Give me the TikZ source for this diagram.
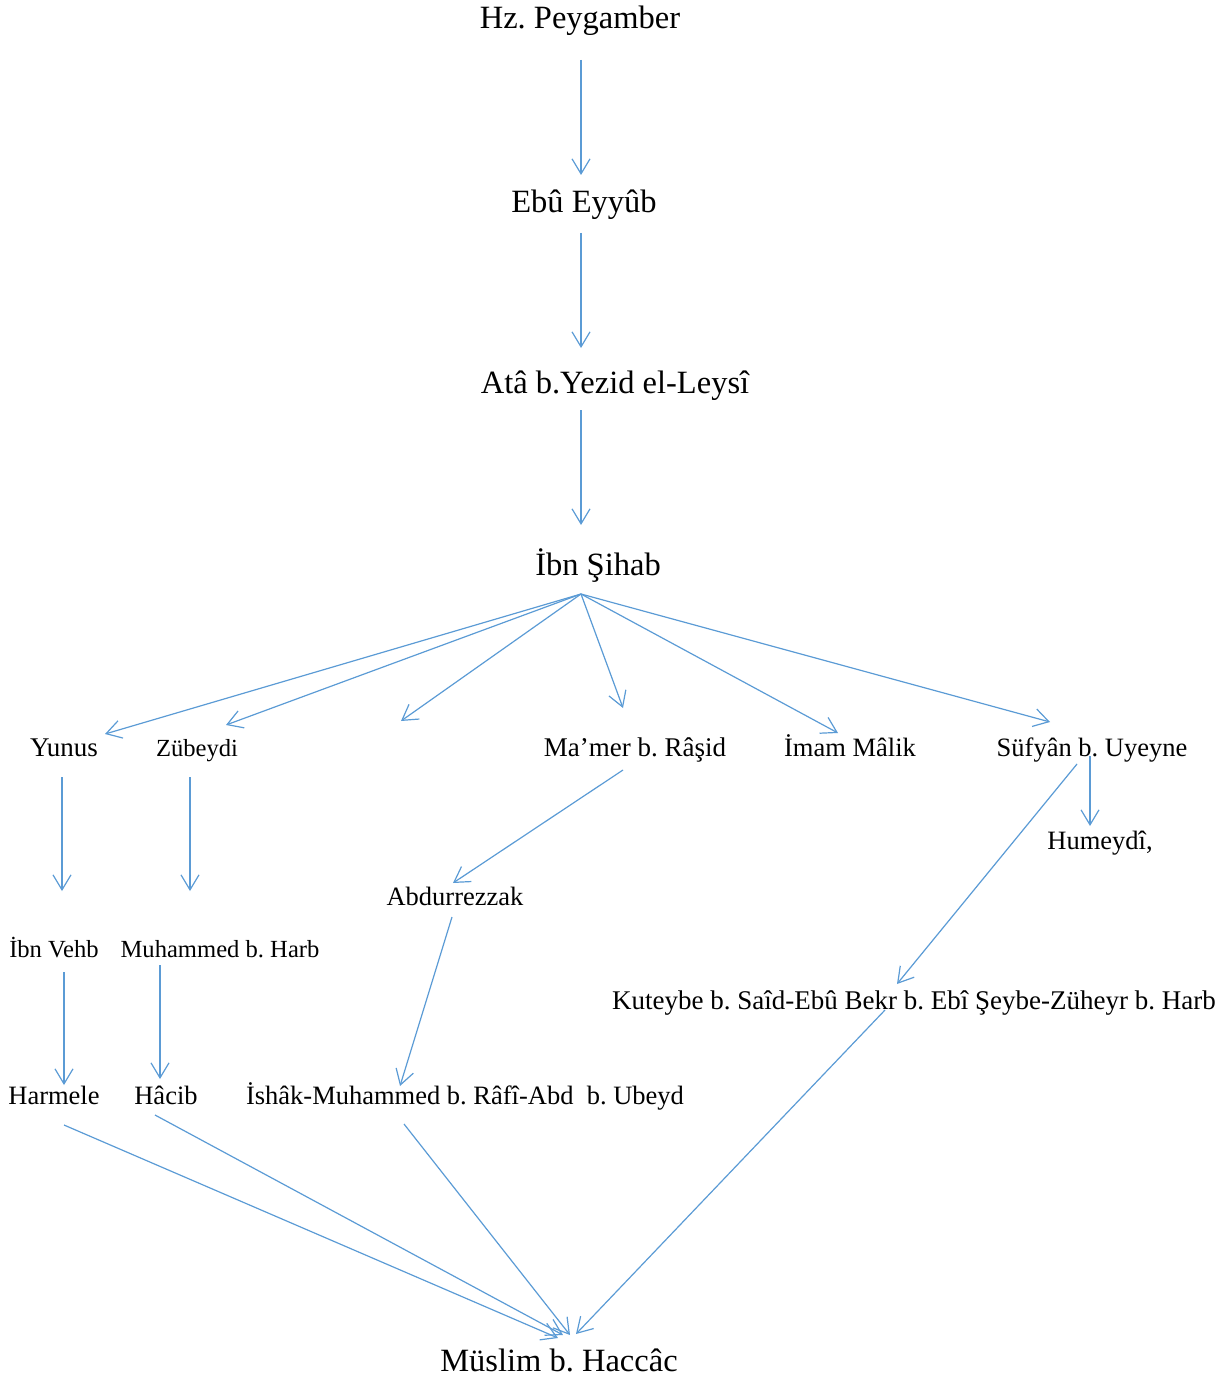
\documentclass[tikz,border=0pt]{standalone}
\usepackage{fontspec}
\setmainfont{Liberation Serif}
\usepackage{xcolor}
\usetikzlibrary{arrows.meta, calc}
\definecolor{linkblue}{RGB}{91,155,213}
\frenchspacing

\begin{document}
\begin{tikzpicture}[
  x=1pt, y=-1pt,
  person/.style={inner sep=0pt, text height=19.9pt, text depth=6.6pt,
                 font=\fontsize{26.5}{30}\selectfont},
  wide/.style={person, text height=20.3pt, text depth=6.8pt,
               font=\fontsize{27}{32}\selectfont},
  big/.style={person, text height=24.4pt, text depth=8.1pt,
              font=\fontsize{32.5}{38}\selectfont},
  small/.style={person, text height=18.5pt, text depth=6.2pt,
                font=\fontsize{24.6}{28}\selectfont},
  arrow/.style={-{Straight Barb[length=15pt, width=18pt]}, draw=linkblue, line width=1.2pt},
]
\useasboundingbox (0,0) rectangle (1227,1380);

% chain from the top
\node[big] (hz) at (580,20) {Hz. Peygamber};
\node[big] (ebu) at (584,204) {Ebû Eyyûb};
\node[big] (ata) at (615,385) {Atâ b.Yezid el-Leysî};
\node[big] (ibn) at (598,567) {İbn Şihab};

% students of Ibn Sihab
\node[wide] (yunus) at (64,750) {Yunus};
\node[small] (zub) at (197,750) {Zübeydi};
\coordinate (blank) at (401,721);
\node[wide] (mamer) at (635,750) {Ma’mer b. Râşid};
\node[person] (malik) at (850,750) {İmam Mâlik};
\node[person] (sufyan) at (1092,750) {Süfyân b. Uyeyne};

\node[person] (humeydi) at (1100,843) {Humeydî,};
\node[person] (abdur) at (455,899) {Abdurrezzak};
\node[small] (vehb) at (54,951) {İbn Vehb};
\node[small] (harb) at (220,951) {Muhammed b. Harb};
\node[wide] (kuteybe) at (914,1003) {Kuteybe b. Saîd-Ebû Bekr b. Ebî Şeybe-Züheyr b. Harb};
\node[person] (harmele) at (54,1098) {Harmele};
\node[person] (hacib) at (166,1098) {Hâcib};
\node[person] (ishak) at (465,1098) {İshâk-Muhammed b. Râfî-Abd\ \ b. Ubeyd};
\node[big] (muslim) at (559,1363) {Müslim b. Haccâc};

\draw[arrow] ([shift={(1,40)}]hz.center) -- ([shift={(-3,-29)}]ebu.center);
\draw[arrow] ([shift={(-3,29)}]ebu.center) -- ([shift={(-34,-37)}]ata.center);
\draw[arrow] ([shift={(-34,25)}]ata.center) -- ([shift={(-17,-42)}]ibn.center);

\draw[arrow] ([shift={(-17,27)}]ibn.center) -- ([shift={(41,-16)}]yunus.center);
\draw[arrow] ([shift={(-17,27)}]ibn.center) -- ([shift={(29,-25)}]zub.center);
\draw[arrow] ([shift={(-17,27)}]ibn.center) -- (blank);
\draw[arrow] ([shift={(-17,27)}]ibn.center) -- ([shift={(-12,-42)}]mamer.center);
\draw[arrow] ([shift={(-17,27)}]ibn.center) -- ([shift={(-12,-17)}]malik.center);
\draw[arrow] ([shift={(-17,27)}]ibn.center) -- ([shift={(-42,-28)}]sufyan.center);

\draw[arrow] ([shift={(-2,27)}]yunus.center) -- ([shift={(8,-60)}]vehb.center);
\draw[arrow] ([shift={(-7,27)}]zub.center) -- ([shift={(-30,-60)}]harb.center);
\draw[arrow] ([shift={(-12,20)}]mamer.center) -- ([shift={(-2,-16)}]abdur.center);
\draw[arrow] ([shift={(-2,6)}]sufyan.center) -- ([shift={(-10,-17)}]humeydi.center);
\draw[arrow] ([shift={(-15,14)}]sufyan.center) -- ([shift={(-17,-19)}]kuteybe.center);
\draw[arrow] ([shift={(-3,18)}]abdur.center) -- ([shift={(-65,-12)}]ishak.center);
\draw[arrow] ([shift={(10,21)}]vehb.center) -- ([shift={(10,-13)}]harmele.center);
\draw[arrow] ([shift={(-60,14)}]harb.center) -- ([shift={(-6,-19)}]hacib.center);

\draw[arrow] ([shift={(10,27)}]harmele.center) -- ([shift={(-1,-25)}]muslim.center);
\draw[arrow] ([shift={(-11,17)}]hacib.center) -- ([shift={(4,-28)}]muslim.center);
\draw[arrow] ([shift={(-61,26)}]ishak.center) -- ([shift={(11,-28)}]muslim.center);
\draw[arrow] ([shift={(-29,7)}]kuteybe.center) -- ([shift={(17,-29)}]muslim.center);
\end{tikzpicture}
\end{document}
